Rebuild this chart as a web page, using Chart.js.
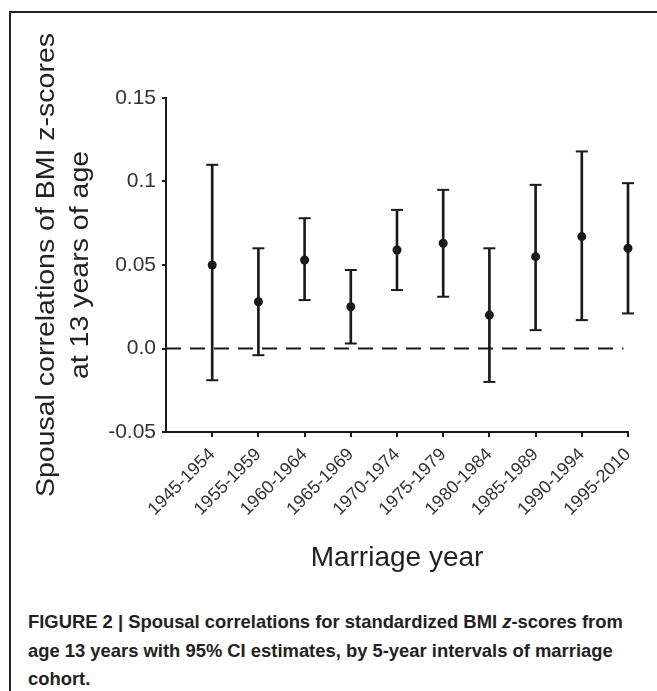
<!DOCTYPE html>
<html>
<head>
<meta charset="utf-8">
<script src="https://cdn.jsdelivr.net/npm/chart.js@4.4.0/dist/chart.umd.min.js"></script>
<style>
  body { margin: 0; background: #fff; }
  #cadre { position: absolute; left: 9px; top: 11px; width: 660px; height: 700px; border-left: 2px solid #222; border-top: 2px solid #222; }
  #graphique { position: absolute; left: 0; top: 0; }
  #legende { position: absolute; left: 28px; top: 608px; font: bold 18.4px "Liberation Sans Narrow", "Liberation Sans", sans-serif; line-height: 28.5px; color: #222; }
</style>
</head>
<body>
<div id="cadre"></div>
<canvas id="graphique" width="657" height="590"></canvas>
<div id="legende">FIGURE 2 | Spousal correlations for standardized BMI <i>z</i>-scores from<br>age 13 years with 95% CI estimates, by 5-year intervals of marriage<br>cohort.</div>
<script>
// Données
const categories = ["1945-1954", "1955-1959", "1960-1964", "1965-1969", "1970-1974",
  "1975-1979", "1980-1984", "1985-1989", "1990-1994", "1995-2010"];
const estimations = [0.050, 0.028, 0.053, 0.025, 0.059, 0.063, 0.020, 0.055, 0.067, 0.060];
const bornesBasses = [-0.019, -0.004, 0.029, 0.003, 0.035, 0.031, -0.020, 0.011, 0.017, 0.021];
const bornesHautes = [0.110, 0.060, 0.078, 0.047, 0.083, 0.095, 0.060, 0.098, 0.118, 0.099];
const yTickLabels = ["-0.05", "0.0", "0.05", "0.1", "0.15"];
const lignesTitreY = ["Spousal correlations of BMI z-scores", "at 13 years of age"];

const noir = "#1a1a1a";

// Titre de l'axe Y sur deux lignes (dessiné à la main, texte un peu étiré comme l'original)
const titreAxeY = {
  id: "titreAxeY",
  afterDraw(chart) {
    const ctx = chart.ctx;
    const milieu = (chart.chartArea.top + chart.chartArea.bottom) / 2;
    ctx.save();
    ctx.fillStyle = "#222";
    ctx.font = "25px 'Liberation Sans', Arial, sans-serif";
    ctx.textAlign = "center";
    ctx.textBaseline = "middle";
    const colonnes = [47, 81];
    for (let i = 0; i < lignesTitreY.length; i++) {
      ctx.save();
      ctx.translate(colonnes[i], milieu);
      ctx.rotate(-Math.PI / 2);
      ctx.scale(1.14, 1);
      ctx.fillText(lignesTitreY[i], 0, 0);
      ctx.restore();
    }
    ctx.restore();
  },
};

const x = (i) => i + 1;

new Chart(document.querySelector("#graphique"), {
  type: "bar",
  data: {
    datasets: [
      {
        // Ligne pointillée à zéro
        type: "line",
        data: [{ x: 0, y: 0 }, { x: 9.9, y: 0 }],
        borderColor: noir,
        borderWidth: 2,
        borderDash: [15, 9],
        pointRadius: 0,
        clip: false,
        order: 4,
      },
      {
        // Barres verticales des IC 95%
        type: "bar",
        data: categories.map((c, i) => ({ x: x(i), y: [bornesBasses[i], bornesHautes[i]] })),
        backgroundColor: noir,
        barThickness: 2,
        borderWidth: 0,
        clip: false,
        order: 3,
      },
      {
        // Traits horizontaux aux extrémités
        type: "scatter",
        data: categories.flatMap((c, i) => [
          { x: x(i), y: bornesBasses[i] },
          { x: x(i), y: bornesHautes[i] },
        ]),
        pointStyle: "line",
        pointRadius: 6,
        borderColor: noir,
        borderWidth: 2,
        clip: false,
        order: 2,
      },
      {
        // Estimations ponctuelles
        type: "scatter",
        data: categories.map((c, i) => ({ x: x(i), y: estimations[i] })),
        pointStyle: "circle",
        pointRadius: 4.5,
        backgroundColor: noir,
        borderColor: noir,
        borderWidth: 0,
        clip: false,
        order: 1,
      },
    ],
  },
  options: {
    responsive: false,
    animation: false,
    devicePixelRatio: 1,
    layout: { padding: { left: 0, top: 98, right: 29, bottom: 0 } },
    plugins: {
      legend: { display: false },
      tooltip: { enabled: false },
    },
    scales: {
      x: {
        type: "linear",
        min: 0,
        max: 10,
        offset: false,
        afterBuildTicks(scale) {
          scale.ticks = categories.map((c, i) => ({ value: x(i) }));
        },
        afterFit(scale) {
          scale.height = 158;
        },
        ticks: {
          minRotation: 45,
          maxRotation: 45,
          autoSkip: false,
          padding: 7,
          color: "#333",
          font: { family: "'Liberation Sans', Arial, sans-serif", size: 18 },
          callback: (v) => categories[v - 1],
        },
        grid: { offset: false, drawOnChartArea: false, drawTicks: true, tickLength: 5, color: noir, lineWidth: 2 },
        border: { display: true, color: noir, width: 2 },
        title: {
          display: true,
          text: "Marriage year",
          color: "#222",
          font: { family: "'Liberation Sans', Arial, sans-serif", size: 28 },
          padding: { top: 0, bottom: 15 },
        },
      },
      y: {
        min: -0.05,
        max: 0.15,
        afterFit(scale) {
          scale.width = 166;
        },
        ticks: {
          stepSize: 0.05,
          padding: 6,
          color: "#333",
          font: { family: "'Liberation Sans', Arial, sans-serif", size: 21 },
          callback: (v, i) => yTickLabels[i],
        },
        grid: { drawOnChartArea: false, drawTicks: true, tickLength: 4, color: noir, lineWidth: 2 },
        border: { display: true, color: noir, width: 2 },
      },
    },
  },
  plugins: [titreAxeY],
});
</script>
</body>
</html>
